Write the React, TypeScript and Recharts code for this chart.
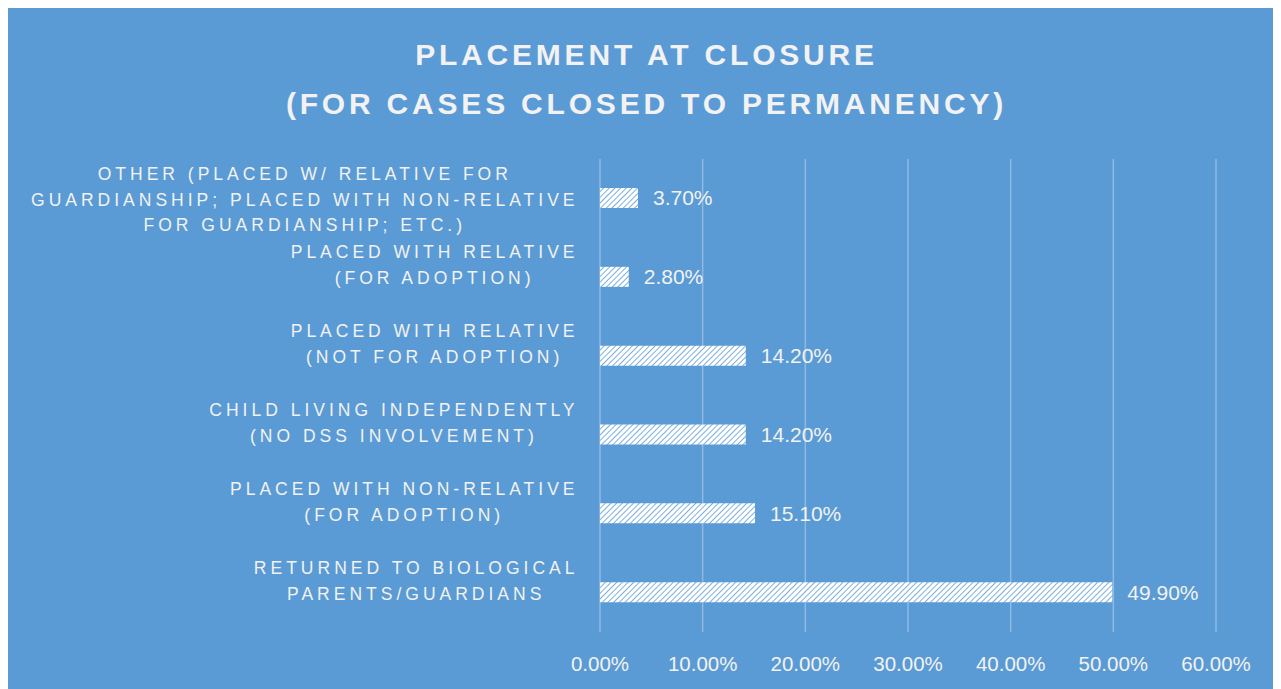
import { useLayoutEffect, useRef, useState } from "react";
import {
  BarChart,
  Bar,
  XAxis,
  YAxis,
  CartesianGrid,
  LabelList,
} from "recharts";

const categories = [
  "OTHER (PLACED W/ RELATIVE FOR\nGUARDIANSHIP; PLACED WITH NON-RELATIVE\nFOR GUARDIANSHIP; ETC.)",
  "PLACED WITH RELATIVE\n(FOR ADOPTION)",
  "PLACED WITH RELATIVE\n(NOT FOR ADOPTION)",
  "CHILD LIVING INDEPENDENTLY\n(NO DSS INVOLVEMENT)",
  "PLACED WITH NON-RELATIVE\n(FOR ADOPTION)",
  "RETURNED TO BIOLOGICAL\nPARENTS/GUARDIANS",
];
const values = [3.7, 2.8, 14.2, 14.2, 15.1, 49.9];
const xTicks = [0, 10, 20, 30, 40, 50, 60];

const data = categories.map((name, i) => ({ name, value: values[i] }));

const BG = "#5B9BD5";
const TEXT = "#F2F2F2";
const FONT = "'Liberation Sans', Arial, sans-serif";
const pct = (v: number) => `${Number(v).toFixed(2)}%`;

const CategoryTick = ({ x, y, payload }: any) => {
  const ref = useRef<SVGGElement>(null);
  const [w, setW] = useState(0);
  useLayoutEffect(() => {
    if (ref.current) setW(ref.current.getBBox().width);
  }, [payload.value]);
  const lines: string[] = String(payload.value).split("\n");
  const offsets = lines.length === 3 ? [-25.5, 0, 25.5] : [-26, 0];
  const right = x - 13.5;
  return (
    <g ref={ref} transform={`translate(${right - w / 2},${y + 1})`}>
      {lines.map((line, i) => (
        <text
          key={i}
          x={0}
          y={offsets[i]}
          dy="0.35em"
          textAnchor="middle"
          fill={TEXT}
          fontSize={17.5}
          letterSpacing={4}
          fontFamily={FONT}
        >
          {line}
        </text>
      ))}
    </g>
  );
};

export default function App() {
  return (
    <div style={{ position: "relative", width: 1273, height: 681, background: BG }}>
      <div
        style={{
          position: "absolute",
          top: 22,
          left: 2,
          width: 1273,
          textAlign: "center",
          color: TEXT,
          fontFamily: FONT,
          fontWeight: "bold",
          fontSize: 30,
          lineHeight: "49px",
          letterSpacing: 3.8,
        }}
      >
        PLACEMENT AT CLOSURE
        <br />
        (FOR CASES CLOSED TO PERMANENCY)
      </div>
      <BarChart
        layout="vertical"
        width={1273}
        height={681}
        data={data}
        margin={{ top: 151, right: 65, bottom: 17, left: 0 }}
      >
        <defs>
          <pattern
            id="hatch"
            width="4"
            height="4"
            patternUnits="userSpaceOnUse"
            patternTransform="rotate(45)"
          >
            <rect width="4" height="4" fill="#FFFFFF" />
            <line x1="0" y1="0" x2="0" y2="4" stroke={BG} strokeWidth="1.6" />
          </pattern>
        </defs>
        <CartesianGrid horizontal={false} stroke="#8DB9E3" strokeWidth={1.5} />
        <XAxis
          type="number"
          domain={[0, 60]}
          ticks={xTicks}
          tickFormatter={pct}
          axisLine={false}
          tickLine={false}
          height={40}
          tickMargin={18}
          tick={{ fill: TEXT, fontSize: 20.5, fontFamily: FONT }}
        />
        <YAxis
          type="category"
          dataKey="name"
          width={592}
          axisLine={false}
          tickLine={false}
          tick={<CategoryTick />}
          interval={0}
        />
        <Bar dataKey="value" fill="url(#hatch)" barSize={20} isAnimationActive={false}>
          <LabelList
            dataKey="value"
            position="right"
            offset={15}
            formatter={(v: any) => pct(v)}
            fill={TEXT}
            fontSize={21}
            fontFamily={FONT}
          />
        </Bar>
      </BarChart>
    </div>
  );
}
